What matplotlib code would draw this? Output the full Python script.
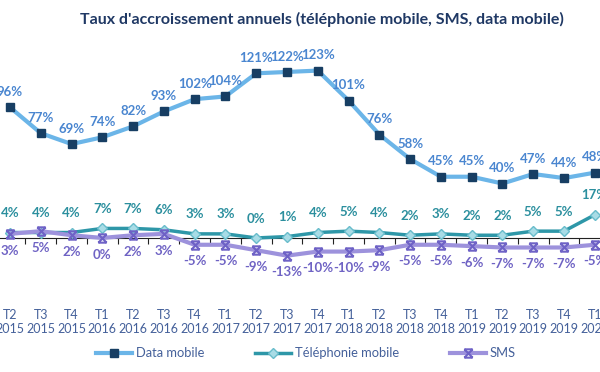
import matplotlib
matplotlib.use("Agg")
import matplotlib.pyplot as plt
from matplotlib.path import Path
import numpy as np

plt.rcParams['font.family'] = ['Lato', 'DejaVu Sans']

# data
trimestres = ['T2', 'T3', 'T4', 'T1', 'T2', 'T3', 'T4', 'T1', 'T2', 'T3',
              'T4', 'T1', 'T2', 'T3', 'T4', 'T1', 'T2', 'T3', 'T4', 'T1']
annees = ['2015', '2015', '2015', '2016', '2016', '2016', '2016', '2017', '2017', '2017',
          '2017', '2018', '2018', '2018', '2018', '2019', '2019', '2019', '2019', '2020']
data_mobile = [96, 77, 69, 74, 82, 93, 102, 104, 121, 122,
               123, 101, 76, 58, 45, 45, 40, 47, 44, 48]
telephonie = [4, 4, 4, 7, 7, 6, 3, 3, 0, 1,
              4, 5, 4, 2, 3, 2, 2, 5, 5, 17]
sms = [3, 5, 2, 0, 2, 3, -5, -5, -9, -13,
       -10, -10, -9, -5, -5, -6, -7, -7, -7, -5]

x = np.arange(len(trimestres))

# excel-like "star" marker: X with top and bottom bars
star = Path([(-1, -1), (1, 1), (-1, 1), (1, -1), (-1, 1), (1, 1), (-1, -1), (1, -1)],
            [Path.MOVETO, Path.LINETO, Path.MOVETO, Path.LINETO,
             Path.MOVETO, Path.LINETO, Path.MOVETO, Path.LINETO])

fig = plt.figure(figsize=(6, 3.72), dpi=100)
ax = fig.add_axes([0, 0.214, 1, 0.695])

l1, = ax.plot(x, data_mobile, color='#6BB5E8', lw=3, marker='s', ms=6,
              mfc='#173E63', mec='#173E63', label='Data mobile', zorder=3)
l2, = ax.plot(x, telephonie, color='#2E97A8', lw=2.5, marker='D', ms=5.5,
              mfc='#A8DCE6', mec='#68BCCB', label='Téléphonie mobile', zorder=3)
l3, = ax.plot(x, sms, color='#9D92DC', lw=3, marker=star, ms=6,
              mfc='none', mec='#6E62C6', mew=1.5, label='SMS', zorder=3)

for i in x:
    ax.annotate(f'{data_mobile[i]}%', (i, data_mobile[i]), xytext=(0, 11),
                textcoords='offset points', ha='center', va='center',
                fontsize=9.5, fontweight='bold', color='#4A86D0')
    ax.annotate(f'{telephonie[i]}%', (i, telephonie[i]), xytext=(0, 14),
                textcoords='offset points', ha='center', va='center',
                fontsize=9.5, fontweight='bold', color='#2B8F9E')
    ax.annotate(f'{sms[i]}%', (i, sms[i]), xytext=(0, -12),
                textcoords='offset points', ha='center', va='center',
                fontsize=9.5, fontweight='bold', color='#6F63C4')
    ax.text(i, -0.115, f'{trimestres[i]}\n{annees[i]}', transform=ax.get_xaxis_transform(),
            ha='center', va='center', fontsize=9, color='#44609A', linespacing=1.25)

ax.set_xlim(-0.325, 19.17)
ax.set_ylim(-40, 150)
for s in ['top', 'right', 'left']:
    ax.spines[s].set_visible(False)
ax.spines['bottom'].set_position(('data', 0))
ax.spines['bottom'].set_color('#222222')
ax.spines['bottom'].set_linewidth(0.8)
ax.set_yticks([])
ax.set_xticks(x[:-1] + 0.5)
ax.set_xticklabels([])
ax.tick_params(axis='x', direction='out', length=4, color='#222222', width=0.8)

fig.text(0.537, 0.947, "Taux d'accroissement annuels (téléphonie mobile, SMS, data mobile)",
         ha='center', va='center', fontsize=11.5, fontweight='bold', color='#1F3864')

fig.legend(handles=[l1, l2, l3], loc='center', bbox_to_anchor=(0.51, 0.05), ncol=3,
           frameon=False, fontsize=9.3, handlelength=2.8, columnspacing=3.9,
           handletextpad=0.3, labelcolor='#44609A')

fig.savefig('out.png', dpi=100)
